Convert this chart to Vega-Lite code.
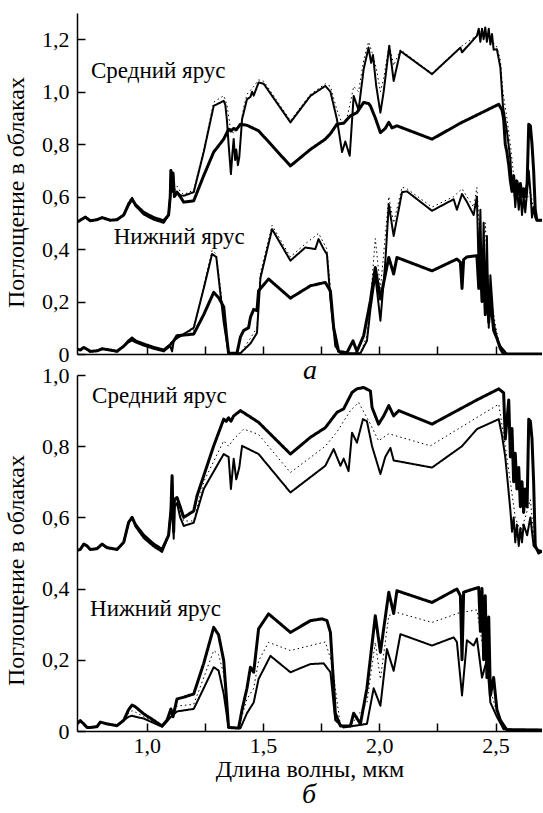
{
"$schema": "https://vega.github.io/schema/vega-lite/v6.json",
"padding": {"left": 4, "top": 13, "right": 0, "bottom": 4},
"background": "white",
"config": {
  "view": {"stroke": null},
  "font": "Liberation Serif",
  "axis": {"domainColor": "black", "domainWidth": 1.5, "tickColor": "black", "tickWidth": 1.5, "grid": false,
           "labelFont": "Liberation Serif", "labelFontSize": 22, "labelColor": "black",
           "titleFont": "Liberation Serif", "titleFontSize": 24, "titleFontWeight": "normal", "titleColor": "black"}
},
"title": {"text": "б", "orient": "bottom", "font": "Liberation Serif", "fontStyle": "italic", "fontSize": 28, "fontWeight": "normal", "color": "black", "anchor": "middle", "offset": 0, "dx": 36},
"data": {"values": [
{"p":"a","t":"m","c":"thick","x":0.700,"y":0.503},{"p":"a","t":"m","c":"thick","x":0.714,"y":0.51},{"p":"a","t":"m","c":"thick","x":0.736,"y":0.522},{"p":"a","t":"m","c":"thick","x":0.757,"y":0.508},{"p":"a","t":"m","c":"thick","x":0.786,"y":0.512},{"p":"a","t":"m","c":"thick","x":0.808,"y":0.52},{"p":"a","t":"m","c":"thick","x":0.843,"y":0.51},{"p":"a","t":"m","c":"thick","x":0.872,"y":0.512},{"p":"a","t":"m","c":"thick","x":0.901,"y":0.53},{"p":"a","t":"m","c":"thick","x":0.922,"y":0.57},{"p":"a","t":"m","c":"thick","x":0.937,"y":0.59},{"p":"a","t":"m","c":"thick","x":0.951,"y":0.57},{"p":"a","t":"m","c":"thick","x":0.987,"y":0.54},{"p":"a","t":"m","c":"thick","x":1.030,"y":0.52},{"p":"a","t":"m","c":"thick","x":1.073,"y":0.508},{"p":"a","t":"m","c":"thick","x":1.094,"y":0.53},{"p":"a","t":"m","c":"thick","x":1.101,"y":0.6},{"p":"a","t":"m","c":"thick","x":1.104,"y":0.7},{"p":"a","t":"m","c":"thick","x":1.109,"y":0.62},{"p":"a","t":"m","c":"thick","x":1.113,"y":0.69},{"p":"a","t":"m","c":"thick","x":1.119,"y":0.6},{"p":"a","t":"m","c":"thick","x":1.130,"y":0.617},
{"p":"a","t":"m","c":"thick","x":1.144,"y":0.6},{"p":"a","t":"m","c":"thick","x":1.159,"y":0.579},{"p":"a","t":"m","c":"thick","x":1.202,"y":0.584},{"p":"a","t":"m","c":"thick","x":1.245,"y":0.68},{"p":"a","t":"m","c":"thick","x":1.288,"y":0.77},{"p":"a","t":"m","c":"thick","x":1.331,"y":0.819},{"p":"a","t":"m","c":"thick","x":1.352,"y":0.857},{"p":"a","t":"m","c":"thick","x":1.362,"y":0.85},{"p":"a","t":"m","c":"thick","x":1.374,"y":0.86},{"p":"a","t":"m","c":"thick","x":1.385,"y":0.855},{"p":"a","t":"m","c":"thick","x":1.403,"y":0.876},{"p":"a","t":"m","c":"thick","x":1.431,"y":0.872},{"p":"a","t":"m","c":"thick","x":1.481,"y":0.851},{"p":"a","t":"m","c":"thick","x":1.618,"y":0.717},{"p":"a","t":"m","c":"thick","x":1.704,"y":0.78},{"p":"a","t":"m","c":"thick","x":1.768,"y":0.819},{"p":"a","t":"m","c":"thick","x":1.790,"y":0.84},{"p":"a","t":"m","c":"thick","x":1.818,"y":0.876},{"p":"a","t":"m","c":"thick","x":1.847,"y":0.88},{"p":"a","t":"m","c":"thick","x":1.876,"y":0.908},{"p":"a","t":"m","c":"thick","x":1.904,"y":0.92},{"p":"a","t":"m","c":"thick","x":1.933,"y":0.959},{"p":"a","t":"m","c":"thick","x":1.954,"y":0.955},{"p":"a","t":"m","c":"thick","x":1.962,"y":0.946},{"p":"a","t":"m","c":"thick","x":1.983,"y":0.9},{"p":"a","t":"m","c":"thick","x":2.005,"y":0.844},{"p":"a","t":"m","c":"thick","x":2.026,"y":0.86},{"p":"a","t":"m","c":"thick","x":2.041,"y":0.883},{"p":"a","t":"m","c":"thick","x":2.055,"y":0.862},{"p":"a","t":"m","c":"thick","x":2.076,"y":0.87},{"p":"a","t":"m","c":"thick","x":2.227,"y":0.819},{"p":"a","t":"m","c":"thick","x":2.349,"y":0.88},{"p":"a","t":"m","c":"thick","x":2.514,"y":0.952},{"p":"a","t":"m","c":"thick","x":2.528,"y":0.93},{"p":"a","t":"m","c":"thick","x":2.535,"y":0.895},{"p":"a","t":"m","c":"thick","x":2.542,"y":0.8},{"p":"a","t":"m","c":"thick","x":2.549,"y":0.77},{"p":"a","t":"m","c":"thick","x":2.557,"y":0.72},{"p":"a","t":"m","c":"thick","x":2.564,"y":0.66},{"p":"a","t":"m","c":"thick","x":2.571,"y":0.62},{"p":"a","t":"m","c":"thick","x":2.578,"y":0.68},{"p":"a","t":"m","c":"thick","x":2.585,"y":0.6},{"p":"a","t":"m","c":"thick","x":2.592,"y":0.66},{"p":"a","t":"m","c":"thick","x":2.600,"y":0.61},{"p":"a","t":"m","c":"thick","x":2.607,"y":0.65},{"p":"a","t":"m","c":"thick","x":2.614,"y":0.6},{"p":"a","t":"m","c":"thick","x":2.621,"y":0.63},{"p":"a","t":"m","c":"thick","x":2.628,"y":0.6},{"p":"a","t":"m","c":"thick","x":2.636,"y":0.65},{"p":"a","t":"m","c":"thick","x":2.643,"y":0.876},{"p":"a","t":"m","c":"thick","x":2.650,"y":0.87},{"p":"a","t":"m","c":"thick","x":2.657,"y":0.8},{"p":"a","t":"m","c":"thick","x":2.664,"y":0.7},{"p":"a","t":"m","c":"thick","x":2.671,"y":0.55},{"p":"a","t":"m","c":"thick","x":2.678,"y":0.51},{"p":"a","t":"m","c":"thick","x":2.700,"y":0.51},

{"p":"a","t":"m","c":"thin","x":0.700,"y":0.503},{"p":"a","t":"m","c":"thin","x":0.714,"y":0.51},{"p":"a","t":"m","c":"thin","x":0.736,"y":0.522},{"p":"a","t":"m","c":"thin","x":0.757,"y":0.508},{"p":"a","t":"m","c":"thin","x":0.786,"y":0.512},{"p":"a","t":"m","c":"thin","x":0.808,"y":0.52},{"p":"a","t":"m","c":"thin","x":0.843,"y":0.51},{"p":"a","t":"m","c":"thin","x":0.872,"y":0.512},{"p":"a","t":"m","c":"thin","x":0.901,"y":0.53},{"p":"a","t":"m","c":"thin","x":0.922,"y":0.575},{"p":"a","t":"m","c":"thin","x":0.937,"y":0.595},{"p":"a","t":"m","c":"thin","x":0.951,"y":0.565},{"p":"a","t":"m","c":"thin","x":0.987,"y":0.532},{"p":"a","t":"m","c":"thin","x":1.030,"y":0.512},{"p":"a","t":"m","c":"thin","x":1.073,"y":0.5},{"p":"a","t":"m","c":"thin","x":1.094,"y":0.53},{"p":"a","t":"m","c":"thin","x":1.101,"y":0.6},{"p":"a","t":"m","c":"thin","x":1.104,"y":0.7},{"p":"a","t":"m","c":"thin","x":1.109,"y":0.62},{"p":"a","t":"m","c":"thin","x":1.113,"y":0.69},{"p":"a","t":"m","c":"thin","x":1.119,"y":0.6},{"p":"a","t":"m","c":"thin","x":1.130,"y":0.617},
{"p":"a","t":"m","c":"thin","x":1.144,"y":0.605},{"p":"a","t":"m","c":"thin","x":1.159,"y":0.603},{"p":"a","t":"m","c":"thin","x":1.202,"y":0.617},{"p":"a","t":"m","c":"thin","x":1.245,"y":0.77},{"p":"a","t":"m","c":"thin","x":1.288,"y":0.946},{"p":"a","t":"m","c":"thin","x":1.331,"y":0.965},{"p":"a","t":"m","c":"thin","x":1.338,"y":0.95},{"p":"a","t":"m","c":"thin","x":1.345,"y":0.89},{"p":"a","t":"m","c":"thin","x":1.352,"y":0.8},{"p":"a","t":"m","c":"thin","x":1.362,"y":0.686},{"p":"a","t":"m","c":"thin","x":1.368,"y":0.76},{"p":"a","t":"m","c":"thin","x":1.374,"y":0.82},{"p":"a","t":"m","c":"thin","x":1.380,"y":0.74},{"p":"a","t":"m","c":"thin","x":1.385,"y":0.78},{"p":"a","t":"m","c":"thin","x":1.392,"y":0.72},{"p":"a","t":"m","c":"thin","x":1.398,"y":0.75},{"p":"a","t":"m","c":"thin","x":1.410,"y":0.895},{"p":"a","t":"m","c":"thin","x":1.431,"y":0.971},{"p":"a","t":"m","c":"thin","x":1.446,"y":0.98},{"p":"a","t":"m","c":"thin","x":1.453,"y":1.0},{"p":"a","t":"m","c":"thin","x":1.460,"y":0.985},{"p":"a","t":"m","c":"thin","x":1.481,"y":1.035},{"p":"a","t":"m","c":"thin","x":1.503,"y":1.03},{"p":"a","t":"m","c":"thin","x":1.618,"y":0.883},{"p":"a","t":"m","c":"thin","x":1.704,"y":0.984},{"p":"a","t":"m","c":"thin","x":1.768,"y":1.022},{"p":"a","t":"m","c":"thin","x":1.790,"y":1.0},{"p":"a","t":"m","c":"thin","x":1.818,"y":0.895},{"p":"a","t":"m","c":"thin","x":1.840,"y":0.77},{"p":"a","t":"m","c":"thin","x":1.854,"y":0.81},{"p":"a","t":"m","c":"thin","x":1.873,"y":0.756},{"p":"a","t":"m","c":"thin","x":1.890,"y":0.984},{"p":"a","t":"m","c":"thin","x":1.911,"y":0.93},{"p":"a","t":"m","c":"thin","x":1.933,"y":1.086},{"p":"a","t":"m","c":"thin","x":1.954,"y":1.168},{"p":"a","t":"m","c":"thin","x":1.965,"y":1.11},{"p":"a","t":"m","c":"thin","x":1.973,"y":1.14},{"p":"a","t":"m","c":"thin","x":1.987,"y":1.022},{"p":"a","t":"m","c":"thin","x":2.005,"y":0.92},{"p":"a","t":"m","c":"thin","x":2.019,"y":1.0},{"p":"a","t":"m","c":"thin","x":2.043,"y":1.175},{"p":"a","t":"m","c":"thin","x":2.062,"y":1.041},{"p":"a","t":"m","c":"thin","x":2.091,"y":1.155},{"p":"a","t":"m","c":"thin","x":2.227,"y":1.067},{"p":"a","t":"m","c":"thin","x":2.349,"y":1.168},{"p":"a","t":"m","c":"thin","x":2.356,"y":1.15},{"p":"a","t":"m","c":"thin","x":2.420,"y":1.213},{"p":"a","t":"m","c":"thin","x":2.428,"y":1.24},{"p":"a","t":"m","c":"thin","x":2.435,"y":1.19},{"p":"a","t":"m","c":"thin","x":2.442,"y":1.24},{"p":"a","t":"m","c":"thin","x":2.449,"y":1.2},{"p":"a","t":"m","c":"thin","x":2.456,"y":1.245},{"p":"a","t":"m","c":"thin","x":2.463,"y":1.19},{"p":"a","t":"m","c":"thin","x":2.471,"y":1.24},{"p":"a","t":"m","c":"thin","x":2.478,"y":1.18},{"p":"a","t":"m","c":"thin","x":2.485,"y":1.22},{"p":"a","t":"m","c":"thin","x":2.492,"y":1.16},{"p":"a","t":"m","c":"thin","x":2.506,"y":1.162},{"p":"a","t":"m","c":"thin","x":2.521,"y":1.092},{"p":"a","t":"m","c":"thin","x":2.532,"y":0.946},{"p":"a","t":"m","c":"thin","x":2.549,"y":0.85},{"p":"a","t":"m","c":"thin","x":2.564,"y":0.743},{"p":"a","t":"m","c":"thin","x":2.571,"y":0.62},{"p":"a","t":"m","c":"thin","x":2.578,"y":0.66},{"p":"a","t":"m","c":"thin","x":2.585,"y":0.56},{"p":"a","t":"m","c":"thin","x":2.592,"y":0.64},{"p":"a","t":"m","c":"thin","x":2.600,"y":0.55},{"p":"a","t":"m","c":"thin","x":2.607,"y":0.62},{"p":"a","t":"m","c":"thin","x":2.614,"y":0.53},{"p":"a","t":"m","c":"thin","x":2.621,"y":0.6},{"p":"a","t":"m","c":"thin","x":2.628,"y":0.54},{"p":"a","t":"m","c":"thin","x":2.636,"y":0.62},{"p":"a","t":"m","c":"thin","x":2.643,"y":0.7},{"p":"a","t":"m","c":"thin","x":2.650,"y":0.62},{"p":"a","t":"m","c":"thin","x":2.657,"y":0.52},{"p":"a","t":"m","c":"thin","x":2.664,"y":0.56},{"p":"a","t":"m","c":"thin","x":2.671,"y":0.52},{"p":"a","t":"m","c":"thin","x":2.678,"y":0.51},{"p":"a","t":"m","c":"thin","x":2.700,"y":0.51},

{"p":"a","t":"m","c":"dotted","x":0.700,"y":0.503},{"p":"a","t":"m","c":"dotted","x":0.714,"y":0.51},{"p":"a","t":"m","c":"dotted","x":0.736,"y":0.522},{"p":"a","t":"m","c":"dotted","x":0.757,"y":0.508},{"p":"a","t":"m","c":"dotted","x":0.786,"y":0.512},{"p":"a","t":"m","c":"dotted","x":0.808,"y":0.52},{"p":"a","t":"m","c":"dotted","x":0.843,"y":0.51},{"p":"a","t":"m","c":"dotted","x":0.872,"y":0.512},{"p":"a","t":"m","c":"dotted","x":0.901,"y":0.535},{"p":"a","t":"m","c":"dotted","x":0.922,"y":0.58},{"p":"a","t":"m","c":"dotted","x":0.937,"y":0.6},{"p":"a","t":"m","c":"dotted","x":0.951,"y":0.575},{"p":"a","t":"m","c":"dotted","x":0.987,"y":0.54},{"p":"a","t":"m","c":"dotted","x":1.030,"y":0.518},{"p":"a","t":"m","c":"dotted","x":1.073,"y":0.505},{"p":"a","t":"m","c":"dotted","x":1.094,"y":0.53},{"p":"a","t":"m","c":"dotted","x":1.101,"y":0.6},{"p":"a","t":"m","c":"dotted","x":1.109,"y":0.64},{"p":"a","t":"m","c":"dotted","x":1.119,"y":0.62},{"p":"a","t":"m","c":"dotted","x":1.130,"y":0.64},
{"p":"a","t":"m","c":"dotted","x":1.144,"y":0.62},{"p":"a","t":"m","c":"dotted","x":1.159,"y":0.608},{"p":"a","t":"m","c":"dotted","x":1.202,"y":0.625},{"p":"a","t":"m","c":"dotted","x":1.245,"y":0.78},{"p":"a","t":"m","c":"dotted","x":1.288,"y":0.96},{"p":"a","t":"m","c":"dotted","x":1.331,"y":0.985},{"p":"a","t":"m","c":"dotted","x":1.345,"y":0.95},{"p":"a","t":"m","c":"dotted","x":1.360,"y":0.86},{"p":"a","t":"m","c":"dotted","x":1.374,"y":0.84},{"p":"a","t":"m","c":"dotted","x":1.388,"y":0.86},{"p":"a","t":"m","c":"dotted","x":1.403,"y":0.87},{"p":"a","t":"m","c":"dotted","x":1.417,"y":0.94},{"p":"a","t":"m","c":"dotted","x":1.431,"y":0.99},{"p":"a","t":"m","c":"dotted","x":1.460,"y":1.02},{"p":"a","t":"m","c":"dotted","x":1.481,"y":1.045},{"p":"a","t":"m","c":"dotted","x":1.503,"y":1.04},{"p":"a","t":"m","c":"dotted","x":1.618,"y":0.89},{"p":"a","t":"m","c":"dotted","x":1.704,"y":0.99},{"p":"a","t":"m","c":"dotted","x":1.768,"y":1.03},{"p":"a","t":"m","c":"dotted","x":1.790,"y":1.02},{"p":"a","t":"m","c":"dotted","x":1.818,"y":0.93},{"p":"a","t":"m","c":"dotted","x":1.840,"y":0.88},{"p":"a","t":"m","c":"dotted","x":1.861,"y":0.9},{"p":"a","t":"m","c":"dotted","x":1.876,"y":0.96},{"p":"a","t":"m","c":"dotted","x":1.890,"y":1.02},{"p":"a","t":"m","c":"dotted","x":1.911,"y":1.0},{"p":"a","t":"m","c":"dotted","x":1.933,"y":1.12},{"p":"a","t":"m","c":"dotted","x":1.954,"y":1.19},{"p":"a","t":"m","c":"dotted","x":1.969,"y":1.15},{"p":"a","t":"m","c":"dotted","x":1.987,"y":1.09},{"p":"a","t":"m","c":"dotted","x":2.005,"y":1.0},{"p":"a","t":"m","c":"dotted","x":2.019,"y":1.05},{"p":"a","t":"m","c":"dotted","x":2.043,"y":1.18},{"p":"a","t":"m","c":"dotted","x":2.062,"y":1.1},{"p":"a","t":"m","c":"dotted","x":2.091,"y":1.16},{"p":"a","t":"m","c":"dotted","x":2.227,"y":1.07},{"p":"a","t":"m","c":"dotted","x":2.349,"y":1.17},{"p":"a","t":"m","c":"dotted","x":2.420,"y":1.215},{"p":"a","t":"m","c":"dotted","x":2.442,"y":1.24},{"p":"a","t":"m","c":"dotted","x":2.478,"y":1.2},{"p":"a","t":"m","c":"dotted","x":2.506,"y":1.17},{"p":"a","t":"m","c":"dotted","x":2.521,"y":1.12},{"p":"a","t":"m","c":"dotted","x":2.532,"y":1.0},{"p":"a","t":"m","c":"dotted","x":2.549,"y":0.9},{"p":"a","t":"m","c":"dotted","x":2.564,"y":0.8},{"p":"a","t":"m","c":"dotted","x":2.585,"y":0.62},{"p":"a","t":"m","c":"dotted","x":2.607,"y":0.6},{"p":"a","t":"m","c":"dotted","x":2.628,"y":0.58},{"p":"a","t":"m","c":"dotted","x":2.650,"y":0.62},{"p":"a","t":"m","c":"dotted","x":2.664,"y":0.55},{"p":"a","t":"m","c":"dotted","x":2.678,"y":0.51},{"p":"a","t":"m","c":"dotted","x":2.700,"y":0.51},

{"p":"a","t":"n","c":"thick","x":0.700,"y":0.019},{"p":"a","t":"n","c":"thick","x":0.714,"y":0.015},{"p":"a","t":"n","c":"thick","x":0.729,"y":0.025},{"p":"a","t":"n","c":"thick","x":0.743,"y":0.018},{"p":"a","t":"n","c":"thick","x":0.757,"y":0.01},{"p":"a","t":"n","c":"thick","x":0.786,"y":0.012},{"p":"a","t":"n","c":"thick","x":0.808,"y":0.02},{"p":"a","t":"n","c":"thick","x":0.843,"y":0.015},{"p":"a","t":"n","c":"thick","x":0.872,"y":0.01},{"p":"a","t":"n","c":"thick","x":0.901,"y":0.03},{"p":"a","t":"n","c":"thick","x":0.922,"y":0.05},{"p":"a","t":"n","c":"thick","x":0.937,"y":0.061},
{"p":"a","t":"n","c":"thick","x":0.951,"y":0.05},{"p":"a","t":"n","c":"thick","x":0.987,"y":0.038},{"p":"a","t":"n","c":"thick","x":1.030,"y":0.025},{"p":"a","t":"n","c":"thick","x":1.073,"y":0.015},{"p":"a","t":"n","c":"thick","x":1.101,"y":0.035},{"p":"a","t":"n","c":"thick","x":1.116,"y":0.05},{"p":"a","t":"n","c":"thick","x":1.130,"y":0.07},{"p":"a","t":"n","c":"thick","x":1.159,"y":0.072},{"p":"a","t":"n","c":"thick","x":1.202,"y":0.076},{"p":"a","t":"n","c":"thick","x":1.245,"y":0.15},{"p":"a","t":"n","c":"thick","x":1.288,"y":0.235},{"p":"a","t":"n","c":"thick","x":1.309,"y":0.215},{"p":"a","t":"n","c":"thick","x":1.331,"y":0.18},{"p":"a","t":"n","c":"thick","x":1.342,"y":0.08},{"p":"a","t":"n","c":"thick","x":1.352,"y":0.003},{"p":"a","t":"n","c":"thick","x":1.388,"y":0.003},{"p":"a","t":"n","c":"thick","x":1.403,"y":0.065},{"p":"a","t":"n","c":"thick","x":1.417,"y":0.09},{"p":"a","t":"n","c":"thick","x":1.438,"y":0.1},{"p":"a","t":"n","c":"thick","x":1.446,"y":0.14},{"p":"a","t":"n","c":"thick","x":1.460,"y":0.17},{"p":"a","t":"n","c":"thick","x":1.474,"y":0.165},{"p":"a","t":"n","c":"thick","x":1.481,"y":0.241},{"p":"a","t":"n","c":"thick","x":1.524,"y":0.286},{"p":"a","t":"n","c":"thick","x":1.618,"y":0.213},{"p":"a","t":"n","c":"thick","x":1.704,"y":0.26},{"p":"a","t":"n","c":"thick","x":1.768,"y":0.273},{"p":"a","t":"n","c":"thick","x":1.790,"y":0.24},{"p":"a","t":"n","c":"thick","x":1.804,"y":0.1},{"p":"a","t":"n","c":"thick","x":1.825,"y":0.01},{"p":"a","t":"n","c":"thick","x":1.861,"y":0.005},{"p":"a","t":"n","c":"thick","x":1.887,"y":0.05},{"p":"a","t":"n","c":"thick","x":1.904,"y":0.01},{"p":"a","t":"n","c":"thick","x":1.933,"y":0.07},{"p":"a","t":"n","c":"thick","x":1.962,"y":0.203},{"p":"a","t":"n","c":"thick","x":1.983,"y":0.33},{"p":"a","t":"n","c":"thick","x":2.005,"y":0.21},{"p":"a","t":"n","c":"thick","x":2.041,"y":0.368},{"p":"a","t":"n","c":"thick","x":2.062,"y":0.305},{"p":"a","t":"n","c":"thick","x":2.076,"y":0.368},{"p":"a","t":"n","c":"thick","x":2.227,"y":0.317},{"p":"a","t":"n","c":"thick","x":2.334,"y":0.362},{"p":"a","t":"n","c":"thick","x":2.349,"y":0.35},{"p":"a","t":"n","c":"thick","x":2.356,"y":0.25},{"p":"a","t":"n","c":"thick","x":2.363,"y":0.36},{"p":"a","t":"n","c":"thick","x":2.377,"y":0.37},{"p":"a","t":"n","c":"thick","x":2.420,"y":0.375},{"p":"a","t":"n","c":"thick","x":2.428,"y":0.25},{"p":"a","t":"n","c":"thick","x":2.435,"y":0.36},{"p":"a","t":"n","c":"thick","x":2.442,"y":0.2},{"p":"a","t":"n","c":"thick","x":2.449,"y":0.33},{"p":"a","t":"n","c":"thick","x":2.456,"y":0.15},{"p":"a","t":"n","c":"thick","x":2.463,"y":0.3},{"p":"a","t":"n","c":"thick","x":2.471,"y":0.12},{"p":"a","t":"n","c":"thick","x":2.478,"y":0.22},{"p":"a","t":"n","c":"thick","x":2.492,"y":0.09},{"p":"a","t":"n","c":"thick","x":2.506,"y":0.06},{"p":"a","t":"n","c":"thick","x":2.521,"y":0.02},{"p":"a","t":"n","c":"thick","x":2.535,"y":0.0},{"p":"a","t":"n","c":"thick","x":2.700,"y":0.0},

{"p":"a","t":"n","c":"thin","x":0.700,"y":0.019},{"p":"a","t":"n","c":"thin","x":0.714,"y":0.015},{"p":"a","t":"n","c":"thin","x":0.729,"y":0.025},{"p":"a","t":"n","c":"thin","x":0.743,"y":0.018},{"p":"a","t":"n","c":"thin","x":0.757,"y":0.01},{"p":"a","t":"n","c":"thin","x":0.786,"y":0.012},{"p":"a","t":"n","c":"thin","x":0.808,"y":0.02},{"p":"a","t":"n","c":"thin","x":0.843,"y":0.015},{"p":"a","t":"n","c":"thin","x":0.872,"y":0.01},{"p":"a","t":"n","c":"thin","x":0.901,"y":0.03},{"p":"a","t":"n","c":"thin","x":0.922,"y":0.045},{"p":"a","t":"n","c":"thin","x":0.937,"y":0.052},
{"p":"a","t":"n","c":"thin","x":0.951,"y":0.045},{"p":"a","t":"n","c":"thin","x":0.987,"y":0.032},{"p":"a","t":"n","c":"thin","x":1.030,"y":0.02},{"p":"a","t":"n","c":"thin","x":1.073,"y":0.01},{"p":"a","t":"n","c":"thin","x":1.101,"y":0.03},{"p":"a","t":"n","c":"thin","x":1.109,"y":0.01},{"p":"a","t":"n","c":"thin","x":1.116,"y":0.05},{"p":"a","t":"n","c":"thin","x":1.130,"y":0.06},{"p":"a","t":"n","c":"thin","x":1.202,"y":0.1},{"p":"a","t":"n","c":"thin","x":1.245,"y":0.25},{"p":"a","t":"n","c":"thin","x":1.281,"y":0.381},{"p":"a","t":"n","c":"thin","x":1.299,"y":0.37},{"p":"a","t":"n","c":"thin","x":1.331,"y":0.12},{"p":"a","t":"n","c":"thin","x":1.352,"y":0.003},{"p":"a","t":"n","c":"thin","x":1.403,"y":0.003},{"p":"a","t":"n","c":"thin","x":1.446,"y":0.04},{"p":"a","t":"n","c":"thin","x":1.474,"y":0.08},{"p":"a","t":"n","c":"thin","x":1.489,"y":0.29},{"p":"a","t":"n","c":"thin","x":1.539,"y":0.476},{"p":"a","t":"n","c":"thin","x":1.618,"y":0.356},{"p":"a","t":"n","c":"thin","x":1.682,"y":0.406},{"p":"a","t":"n","c":"thin","x":1.725,"y":0.4},{"p":"a","t":"n","c":"thin","x":1.739,"y":0.438},{"p":"a","t":"n","c":"thin","x":1.761,"y":0.4},{"p":"a","t":"n","c":"thin","x":1.775,"y":0.38},{"p":"a","t":"n","c":"thin","x":1.790,"y":0.21},{"p":"a","t":"n","c":"thin","x":1.811,"y":0.03},{"p":"a","t":"n","c":"thin","x":1.833,"y":0.003},{"p":"a","t":"n","c":"thin","x":1.919,"y":0.003},{"p":"a","t":"n","c":"thin","x":1.947,"y":0.05},{"p":"a","t":"n","c":"thin","x":1.962,"y":0.17},{"p":"a","t":"n","c":"thin","x":1.983,"y":0.3},{"p":"a","t":"n","c":"thin","x":2.005,"y":0.127},{"p":"a","t":"n","c":"thin","x":2.026,"y":0.35},{"p":"a","t":"n","c":"thin","x":2.041,"y":0.571},{"p":"a","t":"n","c":"thin","x":2.062,"y":0.45},{"p":"a","t":"n","c":"thin","x":2.098,"y":0.617},{"p":"a","t":"n","c":"thin","x":2.119,"y":0.62},{"p":"a","t":"n","c":"thin","x":2.227,"y":0.546},{"p":"a","t":"n","c":"thin","x":2.320,"y":0.59},{"p":"a","t":"n","c":"thin","x":2.334,"y":0.55},{"p":"a","t":"n","c":"thin","x":2.356,"y":0.61},{"p":"a","t":"n","c":"thin","x":2.377,"y":0.58},{"p":"a","t":"n","c":"thin","x":2.406,"y":0.53},{"p":"a","t":"n","c":"thin","x":2.420,"y":0.6},{"p":"a","t":"n","c":"thin","x":2.428,"y":0.3},{"p":"a","t":"n","c":"thin","x":2.435,"y":0.55},{"p":"a","t":"n","c":"thin","x":2.442,"y":0.2},{"p":"a","t":"n","c":"thin","x":2.449,"y":0.5},{"p":"a","t":"n","c":"thin","x":2.456,"y":0.15},{"p":"a","t":"n","c":"thin","x":2.463,"y":0.45},{"p":"a","t":"n","c":"thin","x":2.471,"y":0.1},{"p":"a","t":"n","c":"thin","x":2.478,"y":0.3},{"p":"a","t":"n","c":"thin","x":2.492,"y":0.12},{"p":"a","t":"n","c":"thin","x":2.506,"y":0.06},{"p":"a","t":"n","c":"thin","x":2.521,"y":0.03},{"p":"a","t":"n","c":"thin","x":2.549,"y":0.0},{"p":"a","t":"n","c":"thin","x":2.700,"y":0.0},

{"p":"a","t":"n","c":"dotted","x":0.700,"y":0.019},{"p":"a","t":"n","c":"dotted","x":0.714,"y":0.015},{"p":"a","t":"n","c":"dotted","x":0.729,"y":0.025},{"p":"a","t":"n","c":"dotted","x":0.743,"y":0.018},{"p":"a","t":"n","c":"dotted","x":0.757,"y":0.01},{"p":"a","t":"n","c":"dotted","x":0.786,"y":0.012},{"p":"a","t":"n","c":"dotted","x":0.808,"y":0.02},{"p":"a","t":"n","c":"dotted","x":0.843,"y":0.015},{"p":"a","t":"n","c":"dotted","x":0.872,"y":0.01},{"p":"a","t":"n","c":"dotted","x":0.901,"y":0.03},{"p":"a","t":"n","c":"dotted","x":0.922,"y":0.052},{"p":"a","t":"n","c":"dotted","x":0.937,"y":0.065},
{"p":"a","t":"n","c":"dotted","x":0.951,"y":0.055},{"p":"a","t":"n","c":"dotted","x":0.987,"y":0.04},{"p":"a","t":"n","c":"dotted","x":1.073,"y":0.015},{"p":"a","t":"n","c":"dotted","x":1.130,"y":0.07},{"p":"a","t":"n","c":"dotted","x":1.202,"y":0.09},{"p":"a","t":"n","c":"dotted","x":1.245,"y":0.26},{"p":"a","t":"n","c":"dotted","x":1.281,"y":0.395},{"p":"a","t":"n","c":"dotted","x":1.299,"y":0.38},{"p":"a","t":"n","c":"dotted","x":1.331,"y":0.15},{"p":"a","t":"n","c":"dotted","x":1.352,"y":0.003},{"p":"a","t":"n","c":"dotted","x":1.403,"y":0.003},{"p":"a","t":"n","c":"dotted","x":1.446,"y":0.06},{"p":"a","t":"n","c":"dotted","x":1.474,"y":0.1},{"p":"a","t":"n","c":"dotted","x":1.489,"y":0.31},{"p":"a","t":"n","c":"dotted","x":1.539,"y":0.49},{"p":"a","t":"n","c":"dotted","x":1.618,"y":0.37},{"p":"a","t":"n","c":"dotted","x":1.682,"y":0.42},{"p":"a","t":"n","c":"dotted","x":1.739,"y":0.46},{"p":"a","t":"n","c":"dotted","x":1.775,"y":0.4},{"p":"a","t":"n","c":"dotted","x":1.790,"y":0.25},{"p":"a","t":"n","c":"dotted","x":1.811,"y":0.05},{"p":"a","t":"n","c":"dotted","x":1.833,"y":0.003},{"p":"a","t":"n","c":"dotted","x":1.919,"y":0.003},{"p":"a","t":"n","c":"dotted","x":1.947,"y":0.07},{"p":"a","t":"n","c":"dotted","x":1.962,"y":0.2},{"p":"a","t":"n","c":"dotted","x":1.983,"y":0.44},{"p":"a","t":"n","c":"dotted","x":2.005,"y":0.25},{"p":"a","t":"n","c":"dotted","x":2.026,"y":0.45},{"p":"a","t":"n","c":"dotted","x":2.041,"y":0.6},{"p":"a","t":"n","c":"dotted","x":2.062,"y":0.5},{"p":"a","t":"n","c":"dotted","x":2.098,"y":0.636},{"p":"a","t":"n","c":"dotted","x":2.119,"y":0.63},{"p":"a","t":"n","c":"dotted","x":2.227,"y":0.56},{"p":"a","t":"n","c":"dotted","x":2.320,"y":0.6},{"p":"a","t":"n","c":"dotted","x":2.356,"y":0.63},{"p":"a","t":"n","c":"dotted","x":2.406,"y":0.56},{"p":"a","t":"n","c":"dotted","x":2.420,"y":0.635},{"p":"a","t":"n","c":"dotted","x":2.442,"y":0.3},{"p":"a","t":"n","c":"dotted","x":2.456,"y":0.5},{"p":"a","t":"n","c":"dotted","x":2.471,"y":0.2},{"p":"a","t":"n","c":"dotted","x":2.492,"y":0.15},{"p":"a","t":"n","c":"dotted","x":2.506,"y":0.08},{"p":"a","t":"n","c":"dotted","x":2.521,"y":0.03},{"p":"a","t":"n","c":"dotted","x":2.549,"y":0.0},{"p":"a","t":"n","c":"dotted","x":2.700,"y":0.0},

{"p":"b","t":"m","c":"thick","x":0.700,"y":0.507},{"p":"b","t":"m","c":"thick","x":0.714,"y":0.51},{"p":"b","t":"m","c":"thick","x":0.729,"y":0.525},{"p":"b","t":"m","c":"thick","x":0.743,"y":0.52},{"p":"b","t":"m","c":"thick","x":0.757,"y":0.51},{"p":"b","t":"m","c":"thick","x":0.786,"y":0.512},{"p":"b","t":"m","c":"thick","x":0.808,"y":0.525},{"p":"b","t":"m","c":"thick","x":0.829,"y":0.515},{"p":"b","t":"m","c":"thick","x":0.872,"y":0.51},{"p":"b","t":"m","c":"thick","x":0.901,"y":0.53},{"p":"b","t":"m","c":"thick","x":0.922,"y":0.586},{"p":"b","t":"m","c":"thick","x":0.937,"y":0.6},{"p":"b","t":"m","c":"thick","x":0.944,"y":0.59},
{"p":"b","t":"m","c":"thick","x":0.951,"y":0.58},{"p":"b","t":"m","c":"thick","x":0.987,"y":0.55},{"p":"b","t":"m","c":"thick","x":1.030,"y":0.525},{"p":"b","t":"m","c":"thick","x":1.066,"y":0.51},{"p":"b","t":"m","c":"thick","x":1.094,"y":0.55},{"p":"b","t":"m","c":"thick","x":1.104,"y":0.62},{"p":"b","t":"m","c":"thick","x":1.109,"y":0.717},{"p":"b","t":"m","c":"thick","x":1.113,"y":0.6},{"p":"b","t":"m","c":"thick","x":1.116,"y":0.56},{"p":"b","t":"m","c":"thick","x":1.119,"y":0.65},{"p":"b","t":"m","c":"thick","x":1.130,"y":0.656},{"p":"b","t":"m","c":"thick","x":1.144,"y":0.63},{"p":"b","t":"m","c":"thick","x":1.159,"y":0.6},{"p":"b","t":"m","c":"thick","x":1.202,"y":0.618},{"p":"b","t":"m","c":"thick","x":1.216,"y":0.66},{"p":"b","t":"m","c":"thick","x":1.288,"y":0.801},{"p":"b","t":"m","c":"thick","x":1.331,"y":0.876},{"p":"b","t":"m","c":"thick","x":1.342,"y":0.87},{"p":"b","t":"m","c":"thick","x":1.352,"y":0.88},{"p":"b","t":"m","c":"thick","x":1.362,"y":0.87},{"p":"b","t":"m","c":"thick","x":1.374,"y":0.885},{"p":"b","t":"m","c":"thick","x":1.403,"y":0.9},{"p":"b","t":"m","c":"thick","x":1.481,"y":0.867},{"p":"b","t":"m","c":"thick","x":1.618,"y":0.778},{"p":"b","t":"m","c":"thick","x":1.704,"y":0.825},{"p":"b","t":"m","c":"thick","x":1.768,"y":0.852},{"p":"b","t":"m","c":"thick","x":1.818,"y":0.895},{"p":"b","t":"m","c":"thick","x":1.847,"y":0.905},{"p":"b","t":"m","c":"thick","x":1.883,"y":0.951},{"p":"b","t":"m","c":"thick","x":1.904,"y":0.961},{"p":"b","t":"m","c":"thick","x":1.933,"y":0.965},{"p":"b","t":"m","c":"thick","x":1.962,"y":0.955},{"p":"b","t":"m","c":"thick","x":1.969,"y":0.909},{"p":"b","t":"m","c":"thick","x":1.997,"y":0.862},{"p":"b","t":"m","c":"thick","x":2.019,"y":0.885},{"p":"b","t":"m","c":"thick","x":2.041,"y":0.914},{"p":"b","t":"m","c":"thick","x":2.062,"y":0.885},{"p":"b","t":"m","c":"thick","x":2.084,"y":0.9},{"p":"b","t":"m","c":"thick","x":2.227,"y":0.862},{"p":"b","t":"m","c":"thick","x":2.420,"y":0.93},{"p":"b","t":"m","c":"thick","x":2.514,"y":0.961},{"p":"b","t":"m","c":"thick","x":2.535,"y":0.95},{"p":"b","t":"m","c":"thick","x":2.542,"y":0.82},{"p":"b","t":"m","c":"thick","x":2.557,"y":0.93},{"p":"b","t":"m","c":"thick","x":2.564,"y":0.77},{"p":"b","t":"m","c":"thick","x":2.571,"y":0.85},{"p":"b","t":"m","c":"thick","x":2.578,"y":0.7},{"p":"b","t":"m","c":"thick","x":2.585,"y":0.78},{"p":"b","t":"m","c":"thick","x":2.592,"y":0.68},{"p":"b","t":"m","c":"thick","x":2.600,"y":0.74},{"p":"b","t":"m","c":"thick","x":2.607,"y":0.63},{"p":"b","t":"m","c":"thick","x":2.614,"y":0.7},{"p":"b","t":"m","c":"thick","x":2.621,"y":0.614},{"p":"b","t":"m","c":"thick","x":2.628,"y":0.68},{"p":"b","t":"m","c":"thick","x":2.636,"y":0.63},{"p":"b","t":"m","c":"thick","x":2.643,"y":0.876},{"p":"b","t":"m","c":"thick","x":2.650,"y":0.87},{"p":"b","t":"m","c":"thick","x":2.657,"y":0.82},{"p":"b","t":"m","c":"thick","x":2.664,"y":0.7},{"p":"b","t":"m","c":"thick","x":2.671,"y":0.52},{"p":"b","t":"m","c":"thick","x":2.686,"y":0.5},{"p":"b","t":"m","c":"thick","x":2.700,"y":0.505},

{"p":"b","t":"m","c":"thin","x":0.700,"y":0.507},{"p":"b","t":"m","c":"thin","x":0.714,"y":0.51},{"p":"b","t":"m","c":"thin","x":0.729,"y":0.525},{"p":"b","t":"m","c":"thin","x":0.743,"y":0.52},{"p":"b","t":"m","c":"thin","x":0.757,"y":0.51},{"p":"b","t":"m","c":"thin","x":0.786,"y":0.512},{"p":"b","t":"m","c":"thin","x":0.808,"y":0.525},{"p":"b","t":"m","c":"thin","x":0.829,"y":0.515},{"p":"b","t":"m","c":"thin","x":0.872,"y":0.51},{"p":"b","t":"m","c":"thin","x":0.901,"y":0.53},{"p":"b","t":"m","c":"thin","x":0.922,"y":0.586},{"p":"b","t":"m","c":"thin","x":0.937,"y":0.6},{"p":"b","t":"m","c":"thin","x":0.944,"y":0.59},
{"p":"b","t":"m","c":"thin","x":0.951,"y":0.575},{"p":"b","t":"m","c":"thin","x":0.987,"y":0.542},{"p":"b","t":"m","c":"thin","x":1.030,"y":0.518},{"p":"b","t":"m","c":"thin","x":1.066,"y":0.503},{"p":"b","t":"m","c":"thin","x":1.094,"y":0.55},{"p":"b","t":"m","c":"thin","x":1.104,"y":0.62},{"p":"b","t":"m","c":"thin","x":1.109,"y":0.717},{"p":"b","t":"m","c":"thin","x":1.113,"y":0.58},{"p":"b","t":"m","c":"thin","x":1.116,"y":0.54},{"p":"b","t":"m","c":"thin","x":1.119,"y":0.63},{"p":"b","t":"m","c":"thin","x":1.130,"y":0.64},{"p":"b","t":"m","c":"thin","x":1.144,"y":0.6},{"p":"b","t":"m","c":"thin","x":1.159,"y":0.576},{"p":"b","t":"m","c":"thin","x":1.202,"y":0.585},{"p":"b","t":"m","c":"thin","x":1.245,"y":0.68},{"p":"b","t":"m","c":"thin","x":1.331,"y":0.778},{"p":"b","t":"m","c":"thin","x":1.352,"y":0.77},{"p":"b","t":"m","c":"thin","x":1.362,"y":0.68},{"p":"b","t":"m","c":"thin","x":1.374,"y":0.765},{"p":"b","t":"m","c":"thin","x":1.385,"y":0.707},{"p":"b","t":"m","c":"thin","x":1.398,"y":0.74},{"p":"b","t":"m","c":"thin","x":1.410,"y":0.801},{"p":"b","t":"m","c":"thin","x":1.481,"y":0.778},{"p":"b","t":"m","c":"thin","x":1.618,"y":0.67},{"p":"b","t":"m","c":"thin","x":1.768,"y":0.745},{"p":"b","t":"m","c":"thin","x":1.804,"y":0.792},{"p":"b","t":"m","c":"thin","x":1.833,"y":0.745},{"p":"b","t":"m","c":"thin","x":1.847,"y":0.765},{"p":"b","t":"m","c":"thin","x":1.868,"y":0.73},{"p":"b","t":"m","c":"thin","x":1.883,"y":0.838},{"p":"b","t":"m","c":"thin","x":1.904,"y":0.81},{"p":"b","t":"m","c":"thin","x":1.930,"y":0.876},{"p":"b","t":"m","c":"thin","x":1.947,"y":0.87},{"p":"b","t":"m","c":"thin","x":1.969,"y":0.8},{"p":"b","t":"m","c":"thin","x":2.005,"y":0.722},{"p":"b","t":"m","c":"thin","x":2.026,"y":0.77},{"p":"b","t":"m","c":"thin","x":2.048,"y":0.795},{"p":"b","t":"m","c":"thin","x":2.062,"y":0.76},{"p":"b","t":"m","c":"thin","x":2.227,"y":0.74},{"p":"b","t":"m","c":"thin","x":2.356,"y":0.8},{"p":"b","t":"m","c":"thin","x":2.420,"y":0.848},{"p":"b","t":"m","c":"thin","x":2.514,"y":0.876},{"p":"b","t":"m","c":"thin","x":2.528,"y":0.83},{"p":"b","t":"m","c":"thin","x":2.542,"y":0.77},{"p":"b","t":"m","c":"thin","x":2.564,"y":0.62},{"p":"b","t":"m","c":"thin","x":2.571,"y":0.56},{"p":"b","t":"m","c":"thin","x":2.578,"y":0.6},{"p":"b","t":"m","c":"thin","x":2.585,"y":0.53},{"p":"b","t":"m","c":"thin","x":2.592,"y":0.58},{"p":"b","t":"m","c":"thin","x":2.600,"y":0.52},{"p":"b","t":"m","c":"thin","x":2.607,"y":0.57},{"p":"b","t":"m","c":"thin","x":2.614,"y":0.53},{"p":"b","t":"m","c":"thin","x":2.621,"y":0.58},{"p":"b","t":"m","c":"thin","x":2.636,"y":0.55},{"p":"b","t":"m","c":"thin","x":2.650,"y":0.6},{"p":"b","t":"m","c":"thin","x":2.664,"y":0.52},{"p":"b","t":"m","c":"thin","x":2.678,"y":0.51},{"p":"b","t":"m","c":"thin","x":2.700,"y":0.505},

{"p":"b","t":"m","c":"dotted","x":0.700,"y":0.507},{"p":"b","t":"m","c":"dotted","x":0.714,"y":0.51},{"p":"b","t":"m","c":"dotted","x":0.729,"y":0.525},{"p":"b","t":"m","c":"dotted","x":0.743,"y":0.52},{"p":"b","t":"m","c":"dotted","x":0.757,"y":0.51},{"p":"b","t":"m","c":"dotted","x":0.786,"y":0.512},{"p":"b","t":"m","c":"dotted","x":0.808,"y":0.525},{"p":"b","t":"m","c":"dotted","x":0.829,"y":0.515},{"p":"b","t":"m","c":"dotted","x":0.872,"y":0.51},{"p":"b","t":"m","c":"dotted","x":0.901,"y":0.53},{"p":"b","t":"m","c":"dotted","x":0.922,"y":0.586},{"p":"b","t":"m","c":"dotted","x":0.937,"y":0.6},{"p":"b","t":"m","c":"dotted","x":0.944,"y":0.59},
{"p":"b","t":"m","c":"dotted","x":0.951,"y":0.578},{"p":"b","t":"m","c":"dotted","x":0.987,"y":0.546},{"p":"b","t":"m","c":"dotted","x":1.030,"y":0.522},{"p":"b","t":"m","c":"dotted","x":1.066,"y":0.507},{"p":"b","t":"m","c":"dotted","x":1.094,"y":0.55},{"p":"b","t":"m","c":"dotted","x":1.109,"y":0.68},{"p":"b","t":"m","c":"dotted","x":1.119,"y":0.62},{"p":"b","t":"m","c":"dotted","x":1.130,"y":0.645},{"p":"b","t":"m","c":"dotted","x":1.159,"y":0.59},{"p":"b","t":"m","c":"dotted","x":1.202,"y":0.59},{"p":"b","t":"m","c":"dotted","x":1.245,"y":0.7},{"p":"b","t":"m","c":"dotted","x":1.331,"y":0.815},{"p":"b","t":"m","c":"dotted","x":1.352,"y":0.8},{"p":"b","t":"m","c":"dotted","x":1.374,"y":0.82},{"p":"b","t":"m","c":"dotted","x":1.417,"y":0.848},{"p":"b","t":"m","c":"dotted","x":1.481,"y":0.833},{"p":"b","t":"m","c":"dotted","x":1.618,"y":0.726},{"p":"b","t":"m","c":"dotted","x":1.768,"y":0.8},{"p":"b","t":"m","c":"dotted","x":1.818,"y":0.84},{"p":"b","t":"m","c":"dotted","x":1.876,"y":0.9},{"p":"b","t":"m","c":"dotted","x":1.911,"y":0.923},{"p":"b","t":"m","c":"dotted","x":1.962,"y":0.862},{"p":"b","t":"m","c":"dotted","x":1.997,"y":0.815},{"p":"b","t":"m","c":"dotted","x":2.041,"y":0.835},{"p":"b","t":"m","c":"dotted","x":2.220,"y":0.801},{"p":"b","t":"m","c":"dotted","x":2.514,"y":0.918},{"p":"b","t":"m","c":"dotted","x":2.542,"y":0.8},{"p":"b","t":"m","c":"dotted","x":2.564,"y":0.7},{"p":"b","t":"m","c":"dotted","x":2.585,"y":0.6},{"p":"b","t":"m","c":"dotted","x":2.607,"y":0.56},{"p":"b","t":"m","c":"dotted","x":2.628,"y":0.6},{"p":"b","t":"m","c":"dotted","x":2.650,"y":0.65},{"p":"b","t":"m","c":"dotted","x":2.664,"y":0.55},{"p":"b","t":"m","c":"dotted","x":2.678,"y":0.51},{"p":"b","t":"m","c":"dotted","x":2.700,"y":0.505},

{"p":"b","t":"n","c":"thick","x":0.700,"y":0.02},{"p":"b","t":"n","c":"thick","x":0.714,"y":0.029},{"p":"b","t":"n","c":"thick","x":0.729,"y":0.02},{"p":"b","t":"n","c":"thick","x":0.743,"y":0.01},{"p":"b","t":"n","c":"thick","x":0.757,"y":0.01},{"p":"b","t":"n","c":"thick","x":0.786,"y":0.012},{"p":"b","t":"n","c":"thick","x":0.800,"y":0.025},{"p":"b","t":"n","c":"thick","x":0.829,"y":0.02},{"p":"b","t":"n","c":"thick","x":0.872,"y":0.015},{"p":"b","t":"n","c":"thick","x":0.901,"y":0.03},
{"p":"b","t":"n","c":"thick","x":0.922,"y":0.06},{"p":"b","t":"n","c":"thick","x":0.937,"y":0.073},{"p":"b","t":"n","c":"thick","x":0.951,"y":0.068},{"p":"b","t":"n","c":"thick","x":0.987,"y":0.048},{"p":"b","t":"n","c":"thick","x":1.030,"y":0.03},{"p":"b","t":"n","c":"thick","x":1.066,"y":0.014},{"p":"b","t":"n","c":"thick","x":1.087,"y":0.03},{"p":"b","t":"n","c":"thick","x":1.104,"y":0.062},{"p":"b","t":"n","c":"thick","x":1.113,"y":0.04},{"p":"b","t":"n","c":"thick","x":1.130,"y":0.09},{"p":"b","t":"n","c":"thick","x":1.159,"y":0.095},{"p":"b","t":"n","c":"thick","x":1.202,"y":0.104},{"p":"b","t":"n","c":"thick","x":1.245,"y":0.19},{"p":"b","t":"n","c":"thick","x":1.288,"y":0.291},{"p":"b","t":"n","c":"thick","x":1.309,"y":0.27},{"p":"b","t":"n","c":"thick","x":1.331,"y":0.198},{"p":"b","t":"n","c":"thick","x":1.342,"y":0.1},{"p":"b","t":"n","c":"thick","x":1.352,"y":0.01},{"p":"b","t":"n","c":"thick","x":1.395,"y":0.008},{"p":"b","t":"n","c":"thick","x":1.410,"y":0.06},{"p":"b","t":"n","c":"thick","x":1.431,"y":0.12},{"p":"b","t":"n","c":"thick","x":1.446,"y":0.179},{"p":"b","t":"n","c":"thick","x":1.460,"y":0.165},{"p":"b","t":"n","c":"thick","x":1.481,"y":0.287},{"p":"b","t":"n","c":"thick","x":1.524,"y":0.329},{"p":"b","t":"n","c":"thick","x":1.618,"y":0.277},{"p":"b","t":"n","c":"thick","x":1.704,"y":0.31},{"p":"b","t":"n","c":"thick","x":1.754,"y":0.315},{"p":"b","t":"n","c":"thick","x":1.775,"y":0.31},{"p":"b","t":"n","c":"thick","x":1.790,"y":0.277},{"p":"b","t":"n","c":"thick","x":1.811,"y":0.05},{"p":"b","t":"n","c":"thick","x":1.833,"y":0.014},{"p":"b","t":"n","c":"thick","x":1.876,"y":0.014},{"p":"b","t":"n","c":"thick","x":1.890,"y":0.05},{"p":"b","t":"n","c":"thick","x":1.919,"y":0.02},{"p":"b","t":"n","c":"thick","x":1.947,"y":0.12},{"p":"b","t":"n","c":"thick","x":1.983,"y":0.324},{"p":"b","t":"n","c":"thick","x":2.005,"y":0.221},{"p":"b","t":"n","c":"thick","x":2.041,"y":0.39},{"p":"b","t":"n","c":"thick","x":2.062,"y":0.33},{"p":"b","t":"n","c":"thick","x":2.076,"y":0.394},{"p":"b","t":"n","c":"thick","x":2.227,"y":0.361},{"p":"b","t":"n","c":"thick","x":2.334,"y":0.399},{"p":"b","t":"n","c":"thick","x":2.349,"y":0.38},{"p":"b","t":"n","c":"thick","x":2.356,"y":0.2},{"p":"b","t":"n","c":"thick","x":2.363,"y":0.39},{"p":"b","t":"n","c":"thick","x":2.406,"y":0.399},{"p":"b","t":"n","c":"thick","x":2.428,"y":0.403},{"p":"b","t":"n","c":"thick","x":2.435,"y":0.28},{"p":"b","t":"n","c":"thick","x":2.442,"y":0.4},{"p":"b","t":"n","c":"thick","x":2.449,"y":0.2},{"p":"b","t":"n","c":"thick","x":2.456,"y":0.38},{"p":"b","t":"n","c":"thick","x":2.463,"y":0.15},{"p":"b","t":"n","c":"thick","x":2.471,"y":0.32},{"p":"b","t":"n","c":"thick","x":2.478,"y":0.1},{"p":"b","t":"n","c":"thick","x":2.492,"y":0.15},{"p":"b","t":"n","c":"thick","x":2.506,"y":0.06},{"p":"b","t":"n","c":"thick","x":2.521,"y":0.03},{"p":"b","t":"n","c":"thick","x":2.549,"y":0.003},{"p":"b","t":"n","c":"thick","x":2.700,"y":0.003},

{"p":"b","t":"n","c":"dotted","x":0.700,"y":0.02},{"p":"b","t":"n","c":"dotted","x":0.714,"y":0.029},{"p":"b","t":"n","c":"dotted","x":0.729,"y":0.02},{"p":"b","t":"n","c":"dotted","x":0.743,"y":0.01},{"p":"b","t":"n","c":"dotted","x":0.757,"y":0.01},{"p":"b","t":"n","c":"dotted","x":0.786,"y":0.012},{"p":"b","t":"n","c":"dotted","x":0.800,"y":0.025},{"p":"b","t":"n","c":"dotted","x":0.829,"y":0.02},{"p":"b","t":"n","c":"dotted","x":0.872,"y":0.015},{"p":"b","t":"n","c":"dotted","x":0.901,"y":0.03},
{"p":"b","t":"n","c":"dotted","x":0.922,"y":0.05},{"p":"b","t":"n","c":"dotted","x":0.937,"y":0.057},{"p":"b","t":"n","c":"dotted","x":0.951,"y":0.053},{"p":"b","t":"n","c":"dotted","x":0.987,"y":0.04},{"p":"b","t":"n","c":"dotted","x":1.066,"y":0.014},{"p":"b","t":"n","c":"dotted","x":1.104,"y":0.05},{"p":"b","t":"n","c":"dotted","x":1.130,"y":0.07},{"p":"b","t":"n","c":"dotted","x":1.202,"y":0.075},{"p":"b","t":"n","c":"dotted","x":1.245,"y":0.15},{"p":"b","t":"n","c":"dotted","x":1.288,"y":0.226},{"p":"b","t":"n","c":"dotted","x":1.309,"y":0.215},{"p":"b","t":"n","c":"dotted","x":1.331,"y":0.16},{"p":"b","t":"n","c":"dotted","x":1.352,"y":0.01},{"p":"b","t":"n","c":"dotted","x":1.395,"y":0.008},{"p":"b","t":"n","c":"dotted","x":1.431,"y":0.09},{"p":"b","t":"n","c":"dotted","x":1.460,"y":0.12},{"p":"b","t":"n","c":"dotted","x":1.481,"y":0.197},{"p":"b","t":"n","c":"dotted","x":1.524,"y":0.249},{"p":"b","t":"n","c":"dotted","x":1.618,"y":0.226},{"p":"b","t":"n","c":"dotted","x":1.704,"y":0.24},{"p":"b","t":"n","c":"dotted","x":1.768,"y":0.25},{"p":"b","t":"n","c":"dotted","x":1.797,"y":0.19},{"p":"b","t":"n","c":"dotted","x":1.833,"y":0.014},{"p":"b","t":"n","c":"dotted","x":1.876,"y":0.014},{"p":"b","t":"n","c":"dotted","x":1.947,"y":0.08},{"p":"b","t":"n","c":"dotted","x":1.983,"y":0.249},{"p":"b","t":"n","c":"dotted","x":2.005,"y":0.146},{"p":"b","t":"n","c":"dotted","x":2.041,"y":0.324},{"p":"b","t":"n","c":"dotted","x":2.076,"y":0.333},{"p":"b","t":"n","c":"dotted","x":2.227,"y":0.305},{"p":"b","t":"n","c":"dotted","x":2.349,"y":0.333},{"p":"b","t":"n","c":"dotted","x":2.420,"y":0.34},{"p":"b","t":"n","c":"dotted","x":2.442,"y":0.25},{"p":"b","t":"n","c":"dotted","x":2.463,"y":0.2},{"p":"b","t":"n","c":"dotted","x":2.485,"y":0.1},{"p":"b","t":"n","c":"dotted","x":2.506,"y":0.05},{"p":"b","t":"n","c":"dotted","x":2.535,"y":0.005},{"p":"b","t":"n","c":"dotted","x":2.700,"y":0.003},

{"p":"b","t":"n","c":"thin","x":0.700,"y":0.02},{"p":"b","t":"n","c":"thin","x":0.714,"y":0.029},{"p":"b","t":"n","c":"thin","x":0.729,"y":0.02},{"p":"b","t":"n","c":"thin","x":0.743,"y":0.01},{"p":"b","t":"n","c":"thin","x":0.757,"y":0.01},{"p":"b","t":"n","c":"thin","x":0.786,"y":0.012},{"p":"b","t":"n","c":"thin","x":0.800,"y":0.025},{"p":"b","t":"n","c":"thin","x":0.829,"y":0.02},{"p":"b","t":"n","c":"thin","x":0.872,"y":0.015},{"p":"b","t":"n","c":"thin","x":0.901,"y":0.03},
{"p":"b","t":"n","c":"thin","x":0.922,"y":0.04},{"p":"b","t":"n","c":"thin","x":0.937,"y":0.043},{"p":"b","t":"n","c":"thin","x":0.951,"y":0.04},{"p":"b","t":"n","c":"thin","x":0.987,"y":0.035},{"p":"b","t":"n","c":"thin","x":1.066,"y":0.012},{"p":"b","t":"n","c":"thin","x":1.104,"y":0.04},{"p":"b","t":"n","c":"thin","x":1.130,"y":0.055},{"p":"b","t":"n","c":"thin","x":1.202,"y":0.062},{"p":"b","t":"n","c":"thin","x":1.245,"y":0.12},{"p":"b","t":"n","c":"thin","x":1.288,"y":0.179},{"p":"b","t":"n","c":"thin","x":1.309,"y":0.17},{"p":"b","t":"n","c":"thin","x":1.331,"y":0.104},{"p":"b","t":"n","c":"thin","x":1.352,"y":0.01},{"p":"b","t":"n","c":"thin","x":1.403,"y":0.008},{"p":"b","t":"n","c":"thin","x":1.431,"y":0.05},{"p":"b","t":"n","c":"thin","x":1.460,"y":0.08},{"p":"b","t":"n","c":"thin","x":1.481,"y":0.146},{"p":"b","t":"n","c":"thin","x":1.532,"y":0.211},{"p":"b","t":"n","c":"thin","x":1.618,"y":0.165},{"p":"b","t":"n","c":"thin","x":1.704,"y":0.188},{"p":"b","t":"n","c":"thin","x":1.761,"y":0.19},{"p":"b","t":"n","c":"thin","x":1.790,"y":0.165},{"p":"b","t":"n","c":"thin","x":1.811,"y":0.03},{"p":"b","t":"n","c":"thin","x":1.847,"y":0.01},{"p":"b","t":"n","c":"thin","x":1.947,"y":0.02},{"p":"b","t":"n","c":"thin","x":1.976,"y":0.12},{"p":"b","t":"n","c":"thin","x":2.005,"y":0.071},{"p":"b","t":"n","c":"thin","x":2.033,"y":0.23},{"p":"b","t":"n","c":"thin","x":2.062,"y":0.169},{"p":"b","t":"n","c":"thin","x":2.091,"y":0.272},{"p":"b","t":"n","c":"thin","x":2.227,"y":0.24},{"p":"b","t":"n","c":"thin","x":2.320,"y":0.263},{"p":"b","t":"n","c":"thin","x":2.334,"y":0.25},{"p":"b","t":"n","c":"thin","x":2.356,"y":0.1},{"p":"b","t":"n","c":"thin","x":2.377,"y":0.255},{"p":"b","t":"n","c":"thin","x":2.406,"y":0.24},{"p":"b","t":"n","c":"thin","x":2.420,"y":0.26},{"p":"b","t":"n","c":"thin","x":2.442,"y":0.15},{"p":"b","t":"n","c":"thin","x":2.463,"y":0.2},{"p":"b","t":"n","c":"thin","x":2.478,"y":0.08},{"p":"b","t":"n","c":"thin","x":2.506,"y":0.04},{"p":"b","t":"n","c":"thin","x":2.535,"y":0.005},{"p":"b","t":"n","c":"thin","x":2.700,"y":0.003}
]},
"vconcat": [
 {
  "width": 465, "height": 341,
  "layer": [
   {
    "transform": [{"filter": "datum.p == 'a'"}],
    "mark": {"type": "line", "clip": true, "color": "black", "strokeJoin": "round"},
    "encoding": {
      "x": {"field": "x", "type": "quantitative", "scale": {"domain": [0.7, 2.7], "nice": false, "zero": false},
            "axis": {"values": [1, 1.25, 1.5, 1.75, 2, 2.25, 2.5], "labels": false, "tickSize": -8, "title": "а", "titleFontStyle": "italic", "titleFontSize": 28, "titlePadding": 2}},
      "y": {"field": "y", "type": "quantitative", "scale": {"domain": [0, 1.3], "nice": false, "zero": true},
            "axis": {"values": [0, 0.1, 0.2, 0.3, 0.4, 0.5, 0.6, 0.7, 0.8, 0.9, 1.0, 1.1, 1.2], "tickSize": -8, "labelPadding": 16,
                     "labelExpr": "round(datum.value*10) % 2 != 0 ? '' : (datum.value == 0 ? '0' : replace(format(datum.value, '.1f'), '.', ','))",
                     "title": "Поглощение в облаках", "titleX": -54, "titleY": 179, "titleBaseline": "alphabetic"}},
      "detail": {"field": "t"},
      "strokeWidth": {"field": "c", "type": "nominal", "scale": {"domain": ["thick", "thin", "dotted"], "range": [3, 1, 1.6]}, "legend": null},
      "strokeDash": {"field": "c", "type": "nominal", "scale": {"domain": ["thick", "thin", "dotted"], "range": [[1, 0], [1, 0], [1.5, 3]]}, "legend": null}
    }
   },
   {
    "data": {"values": [{"label": "Средний ярус", "x": 0.76, "y": 1.08}, {"label": "Нижний ярус", "x": 0.858, "y": 0.445}]},
    "mark": {"type": "text", "align": "left", "baseline": "middle", "font": "Liberation Serif", "fontSize": 23, "color": "black"},
    "encoding": {"x": {"field": "x", "type": "quantitative"}, "y": {"field": "y", "type": "quantitative"}, "text": {"field": "label"}}
   }
  ]
 },
 {
  "width": 465, "height": 356,
  "layer": [
   {
    "transform": [{"filter": "datum.p == 'b'"}],
    "mark": {"type": "line", "clip": true, "color": "black", "strokeJoin": "round"},
    "encoding": {
      "x": {"field": "x", "type": "quantitative", "scale": {"domain": [0.7, 2.7], "nice": false, "zero": false},
            "axis": {"values": [1, 1.25, 1.5, 1.75, 2, 2.25, 2.5], "tickSize": -8, "labelPadding": 12,
                     "labelExpr": "round(datum.value*100) % 50 != 0 ? '' : replace(format(datum.value, '.1f'), '.', ',')",
                     "title": "Длина волны, мкм", "titlePadding": 1}},
      "y": {"field": "y", "type": "quantitative", "scale": {"domain": [0, 1.0], "nice": false, "zero": true},
            "axis": {"values": [0, 0.1, 0.2, 0.3, 0.4, 0.5, 0.6, 0.7, 0.8, 0.9, 1.0], "tickSize": -8, "labelPadding": 16,
                     "labelExpr": "round(datum.value*10) % 2 != 0 ? '' : (datum.value == 0 ? '0' : replace(format(datum.value, '.1f'), '.', ','))",
                     "title": "Поглощение в облаках", "titleX": -54, "titleY": 195, "titleBaseline": "alphabetic"}},
      "detail": {"field": "t"},
      "strokeWidth": {"field": "c", "type": "nominal", "scale": {"domain": ["thick", "thin", "dotted"], "range": [3, 1, 1.6]}, "legend": null},
      "strokeDash": {"field": "c", "type": "nominal", "scale": {"domain": ["thick", "thin", "dotted"], "range": [[1, 0], [1, 0], [1.5, 3]]}, "legend": null}
    }
   },
   {
    "data": {"values": [{"label": "Средний ярус", "x": 0.765, "y": 0.942}, {"label": "Нижний ярус", "x": 0.756, "y": 0.343}]},
    "mark": {"type": "text", "align": "left", "baseline": "middle", "font": "Liberation Serif", "fontSize": 23, "color": "black"},
    "encoding": {"x": {"field": "x", "type": "quantitative"}, "y": {"field": "y", "type": "quantitative"}, "text": {"field": "label"}}
   }
  ]
 }
],
"spacing": 21,
"bounds": "flush"
}
